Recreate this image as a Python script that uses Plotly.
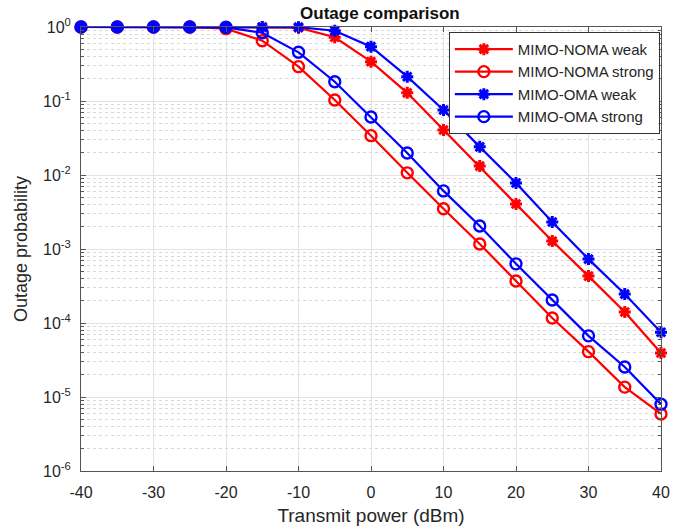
import plotly.graph_objects as go

power_dbm = [-40, -35, -30, -25, -20, -15, -10, -5, 0, 5, 10, 15, 20, 25, 30, 35, 40]

noma_weak = [1, 1, 1, 1, 1, 0.99, 0.98, 0.726, 0.34, 0.129, 0.0406, 0.0132, 0.00406,
             0.00128, 4.3e-4, 1.41e-4, 3.93e-5]
noma_strong = [1, 1, 1, 1, 0.95, 0.653, 0.291, 0.103, 0.034, 0.0107, 0.0035, 0.00117,
               3.7e-4, 1.17e-4, 4.1e-5, 1.36e-5, 5.9e-6]
oma_weak = [1, 1, 1, 1, 1, 1, 0.995, 0.89, 0.542, 0.213, 0.0755, 0.024, 0.0078,
            0.00232, 7.3e-4, 2.46e-4, 7.5e-5]
oma_strong = [1, 1, 1, 1, 0.99, 0.837, 0.455, 0.182, 0.0608, 0.0198, 0.0061, 0.00205,
              6.3e-4, 2.05e-4, 6.7e-5, 2.54e-5, 8.0e-6]

series_names = ["MIMO-NOMA weak", "MIMO-NOMA strong", "MIMO-OMA weak", "MIMO-OMA strong"]

y_tick_values = [1e-6, 1e-5, 1e-4, 1e-3, 1e-2, 1e-1, 1]
y_tick_labels = ["10<sup>-6</sup>", "10<sup>-5</sup>", "10<sup>-4</sup>", "10<sup>-3</sup>",
                 "10<sup>-2</sup>", "10<sup>-1</sup>", "10<sup>0</sup>"]
x_tick_values = [-40, -30, -20, -10, 0, 10, 20, 30, 40]
x_tick_labels = ["-40", "-30", "-20", "-10", "0", "10", "20", "30", "40"]

FONT = "Liberation Sans, Arial, sans-serif"
TXT = "#262626"

styles = [
    ("#ff0000", "asterisk-open", 10, 3.0),
    ("#ff0000", "circle-open", 11, 2.4),
    ("#0000ff", "asterisk-open", 10, 3.0),
    ("#0000ff", "circle-open", 11, 2.4),
]

fig = go.Figure()
for name, ys, (col, sym, sz, lw) in zip(series_names, [noma_weak, noma_strong, oma_weak, oma_strong], styles):
    fig.add_trace(go.Scatter(
        x=power_dbm, y=ys, name=name, mode="lines+markers",
        line=dict(color=col, width=2.2),
        marker=dict(symbol=sym, size=sz, color=col, line=dict(color=col, width=lw)),
        cliponaxis=False,
    ))

axis_common = dict(
    showline=True, linecolor="#555555", linewidth=1, mirror="ticks",
    ticks="inside", tickcolor="#555555", ticklen=5,
    tickfont=dict(family=FONT, size=16, color=TXT),
    showgrid=True, gridcolor="#e3e3e3", gridwidth=1,
    zeroline=False, automargin=False,
)

fig.update_layout(
    width=687, height=530,
    margin=dict(l=81, r=26, t=27, b=59),
    paper_bgcolor="white", plot_bgcolor="white",
    title=dict(text="<b>Outage comparison</b>", x=0.553, xanchor="center", y=0.975, yanchor="middle",
               font=dict(family=FONT, size=17, color="#111111")),
    font=dict(family=FONT, color=TXT),
    showlegend=True,
    legend=dict(x=0.998, xanchor="right", y=0.989, yanchor="top",
                bgcolor="white", bordercolor="#333333", borderwidth=1,
                font=dict(family=FONT, size=15, color=TXT),
                tracegroupgap=0, itemwidth=58),
)

fig.update_xaxes(
    **axis_common,
    range=[-40, 40], tickvals=x_tick_values, ticktext=x_tick_labels,
    ticklabelstandoff=7,
    title=dict(text="Transmit power (dBm)", font=dict(family=FONT, size=19, color=TXT), standoff=8),
)
fig.update_yaxes(
    **axis_common,
    type="log", range=[-6, 0],
    tickvals=y_tick_values, ticktext=y_tick_labels,
    ticklabelstandoff=6,
    minor=dict(ticks="inside", ticklen=3, tickcolor="#555555", dtick="D1",
               showgrid=True, gridcolor="#d9d9d9", griddash="dot", gridwidth=1),
    title=dict(text="Outage probability", font=dict(family=FONT, size=18, color=TXT), standoff=10),
)

fig.write_html("out.html")
